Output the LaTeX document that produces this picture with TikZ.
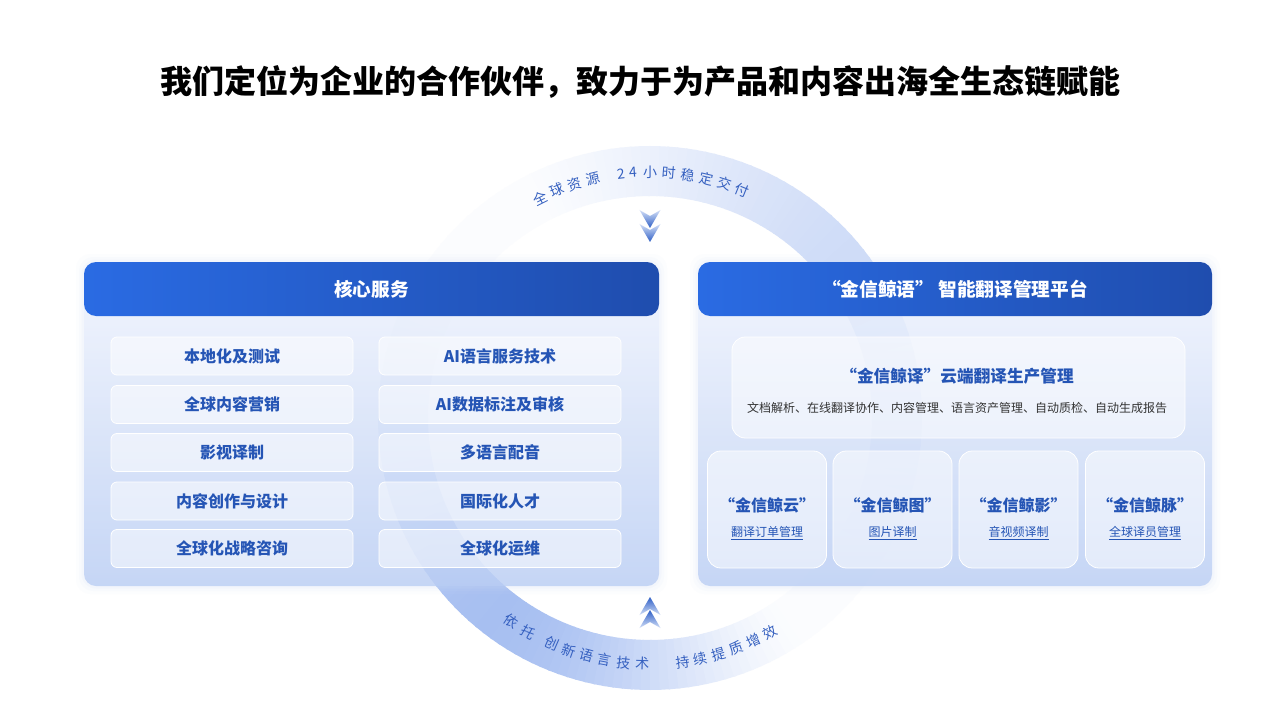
\documentclass[tikz,border=0pt]{standalone}
\usepackage{fontspec}
\setmainfont{Noto Sans CJK SC}
\definecolor{ringc}{HTML}{A0BAF0}
\definecolor{arctxt}{HTML}{3560C0}
\definecolor{hdrL}{HTML}{2A6BE3}
\definecolor{hdrR}{HTML}{1F4DAE}
\definecolor{bodyT}{HTML}{F4F7FE}
\definecolor{bodyB}{HTML}{B9CDF4}
\definecolor{itemblue}{HTML}{2555B5}
\definecolor{glowc}{HTML}{D3DFF8}
\definecolor{chevL}{HTML}{D2DEF7}
\definecolor{chevD}{HTML}{2E5FC6}
\definecolor{subgrey}{HTML}{333333}
\tikzset{
  arctext/.style={text=arctxt, font=\fontsize{10.5}{10.5}\selectfont, inner sep=0pt},
  hdrtext/.style={text=white, font=\bfseries\fontsize{14}{14}\selectfont, inner sep=0pt},
  itembox/.style={draw=white, line width=0.6pt, fill=white, fill opacity=0.5, text opacity=1,
     rounded corners=4.5pt, minimum width=181.5pt, minimum height=28.5pt, inner sep=0pt,
     text=itemblue, font=\bfseries\fontsize{12}{12}\selectfont},
  cardbox/.style={draw=white, line width=0.6pt, fill=white, fill opacity=0.5,
     rounded corners=10pt, inner sep=0pt},
  cardtitle/.style={text=itemblue, font=\bfseries\fontsize{12}{12}\selectfont, inner sep=0pt},
  cardsub/.style={text=itemblue, font=\fontsize{9}{9}\selectfont, inner sep=0pt},
}
\begin{document}
\begin{tikzpicture}[x=0.75pt,y=-0.75pt]
\useasboundingbox (0,0) rectangle (1280,720);
\fill[white] (0,0) rectangle (1280,720);

% title
\node[font=\bfseries\fontsize{24}{24}\selectfont, inner sep=0pt] (title) at (640,82)
  {我们定位为企业的合作伙伴，致力于为产品和内容出海全生态链赋能};

% ring
\foreach \a in {0,2,...,358}{
  \pgfmathsetmacro\p{max(4,100*(cos(\a-45))^2*(0.7-0.3*sin(\a)))}
  \pgfmathsetmacro\b{\a+2.4}
  \fill[ringc!\p!white] ({650+272*cos(\a)},{418-272*sin(\a)}) -- ({650+272*cos(\b)},{418-272*sin(\b)})
     -- ({650+222*cos(\b)},{418-222*sin(\b)}) -- ({650+222*cos(\a)},{418-222*sin(\a)}) -- cycle;
}

% arc texts
\foreach \c/\a [count=\i] in {全/116.6,球/112.2,资/107.9,源/103.5,2/96.8,4/94.0,小/90.0,时/85.6,稳/81.2,定/76.8,交/72.4,付/68.0}
  \node[arctext, rotate=\a-90] (top\i) at ({650+246*cos(\a)},{418-246*sin(\a)}) {\c};
\foreach \c/\a [count=\i] in {依/235.7,托/240.4,创/246.5,新/250.8,语/255.1,言/259.4,技/263.8,术/268.2,持/277.6,续/281.9,提/286.2,质/290.6,增/294.9,效/299.3}
  \node[arctext, rotate=\a+90] (bot\i) at ({650+246*cos(\a)},{418-246*sin(\a)}) {\c};

% chevrons
\shade[top color=chevL, bottom color=chevD] (639.5,210) -- (650,228) -- (660.5,210) -- (650,216) -- cycle;
\shade[top color=chevL, bottom color=chevD] (639.5,224) -- (650,242) -- (660.5,224) -- (650,230) -- cycle;
\shade[top color=chevD, bottom color=chevL] (639.5,615) -- (650,597) -- (660.5,615) -- (650,609) -- cycle;
\shade[top color=chevD, bottom color=chevL] (639.5,628) -- (650,610) -- (660.5,628) -- (650,622) -- cycle;

% panel glows
\foreach \d/\o in {8/0.06,5/0.08,2.5/0.12}{
  \fill[glowc, opacity=\o, rounded corners=11pt] (84-\d,262-\d) rectangle (659+\d,586+\d);
  \fill[glowc, opacity=\o, rounded corners=11pt] (698-\d,262-\d) rectangle (1212+\d,586+\d);
}

% left panel
\shade[top color=bodyT, bottom color=bodyB, opacity=0.78, rounded corners=9pt] (84,262) rectangle (659,586);
\shade[left color=hdrL, right color=hdrR, rounded corners=9pt] (84,262) rectangle (659,316);
\node[hdrtext] (lhead) at (371.5,289) {核心服务};

\node[itembox] (l1) at (232,356) {本地化及测试};
\node[itembox] (l2) at (232,404.5) {全球内容营销};
\node[itembox] (l3) at (232,452.5) {影视译制};
\node[itembox] (l4) at (232,501) {内容创作与设计};
\node[itembox] (l5) at (232,548.5) {全球化战略咨询};
\node[itembox] (r1) at (500,356) {AI语言服务技术};
\node[itembox] (r2) at (500,404.5) {AI数据标注及审核};
\node[itembox] (r3) at (500,452.5) {多语言配音};
\node[itembox] (r4) at (500,501) {国际化人才};
\node[itembox] (r5) at (500,548.5) {全球化运维};

% right panel
\shade[top color=bodyT, bottom color=bodyB, opacity=0.78, rounded corners=9pt] (698,262) rectangle (1212,586);
\shade[left color=hdrL, right color=hdrR, rounded corners=9pt] (698,262) rectangle (1212,316);
\node[hdrtext] (rhead) at (955,289) {“金信鲸语” 智能翻译管理平台};

\node[cardbox, minimum width=339.75pt, minimum height=75.75pt] (cloud) at (958.5,387.5) {};
\node[cardtitle, font=\bfseries\fontsize{12.5}{12.5}\selectfont] (cloudt) at (957,376) {“金信鲸译”云端翻译生产管理};
\node[text=subgrey, font=\fontsize{9}{9}\selectfont, inner sep=0pt] (clouds) at (957,408)
  {文档解析、在线翻译协作、内容管理、语言资产管理、自动质检、自动生成报告};

\foreach \x/\t/\s [count=\i] in {767/“金信鲸云”/翻译订单管理, 892.5/“金信鲸图”/图片译制, 1018.5/“金信鲸影”/音视频译制, 1145/“金信鲸脉”/全球译员管理}{
  \node[cardbox, minimum width=89.25pt, minimum height=87.75pt] (card\i) at (\x,509.5) {};
  \node[cardtitle] (cardt\i) at (\x,505) {\t};
  \node[cardsub] (cards\i) at (\x,533) {\underline{\s}};
}
\end{tikzpicture}
\end{document}
